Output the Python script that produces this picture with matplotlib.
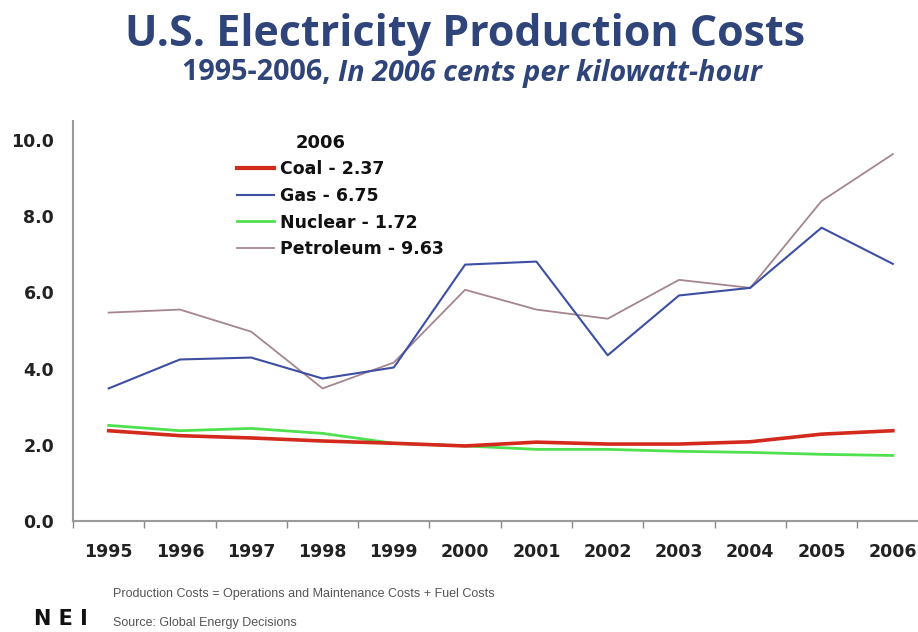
import matplotlib
matplotlib.use("Agg")
import matplotlib.pyplot as plt
from matplotlib.lines import Line2D

years = ["1995", "1996", "1997", "1998", "1999", "2000",
         "2001", "2002", "2003", "2004", "2005", "2006"]
coal = [2.37, 2.24, 2.18, 2.10, 2.04, 1.97, 2.07, 2.02, 2.02, 2.08, 2.28, 2.37]
gas = [3.48, 4.24, 4.29, 3.74, 4.03, 6.73, 6.81, 4.35, 5.92, 6.12, 7.70, 6.75]
nuclear = [2.51, 2.37, 2.43, 2.30, 2.04, 1.97, 1.88, 1.88, 1.83, 1.80, 1.75, 1.72]
petroleum = [5.47, 5.55, 4.97, 3.48, 4.16, 6.07, 5.55, 5.31, 6.33, 6.12, 8.40, 9.63]
yticks = [0, 2, 4, 6, 8, 10]
series_names = ["Coal - 2.37", "Gas - 6.75", "Nuclear - 1.72", "Petroleum - 9.63"]
legend_title = "2006"

W, H = 918, 632
fig = plt.figure(figsize=(W / 100, H / 100), dpi=100)
fig.patch.set_facecolor("white")

left = 73 / W
right = 928.5 / W
bottom = (H - 521) / H
top = (H - 121) / H
ax = fig.add_axes([left, bottom, right - left, top - bottom])

c_coal, c_gas, c_nuc, c_pet = "#d42a1e", "#3d4fa3", "#4fe04f", "#a4868e"
x = list(range(len(years)))
ax.plot(x, petroleum, color=c_pet, lw=1.3, zorder=2)
ax.plot(x, gas, color=c_gas, lw=1.5, zorder=3)
ax.plot(x, nuclear, color=c_nuc, lw=2.0, zorder=4)
ax.plot(x, coal, color=c_coal, lw=2.6, zorder=5)

ax.set_xlim(-0.5, len(years) - 0.5)
ax.set_ylim(0, 10.5)
ax.set_yticks(yticks)
ax.set_yticklabels([f"{v:.1f}" for v in yticks], fontsize=12.5,
                   fontweight="bold", color="#222222")
ax.set_xticks(x)
ax.set_xticklabels(years, fontsize=12.5, fontweight="bold", color="#222222")
ax.set_xticks([i + 0.5 for i in range(-1, len(years))], minor=True)
ax.tick_params(axis="x", which="major", length=0, pad=16)
ax.tick_params(axis="x", which="minor", length=5, color="#888888", width=1)
ax.tick_params(axis="y", which="major", length=0, pad=13.5)
for s in ["top", "right"]:
    ax.spines[s].set_visible(False)
for s in ["left", "bottom"]:
    ax.spines[s].set_color("#9a9a9a")
    ax.spines[s].set_linewidth(1.5)

handles = [
    Line2D([], [], color=c_coal, lw=3.0),
    Line2D([], [], color=c_gas, lw=1.5),
    Line2D([], [], color=c_nuc, lw=2.0),
    Line2D([], [], color=c_pet, lw=1.3),
]
leg = ax.legend(handles, series_names, frameon=False,
                loc="upper left", bbox_to_anchor=(225 / W, (H - 148) / H),
                bbox_transform=fig.transFigure,
                prop={"weight": "bold", "size": 12.5},
                handlelength=2.15, handletextpad=0.3, labelspacing=0.5,
                borderpad=0.2)
for t in leg.get_texts():
    t.set_color("#111111")
fig.text(321 / W, (H - 143) / H, legend_title, ha="center", va="center",
         fontsize=13, fontweight="bold", color="#111111")

navy = "#2f4478"
fig.text(465 / W, (H - 35) / H, "U.S. Electricity Production Costs",
         ha="center", va="center", fontsize=31, fontweight="bold",
         color=navy, family="Open Sans")

fig.canvas.draw()
r = fig.canvas.get_renderer()
t1 = fig.text(0, (H - 73) / H, "1995-2006, ", ha="left", va="center",
              fontsize=20.7, fontweight="bold", color=navy, family="Open Sans")
t2 = fig.text(0, (H - 73) / H, "In 2006 cents per kilowatt-hour", ha="left",
              va="center", fontsize=20.7, fontweight="bold", style="italic",
              color=navy, family="Open Sans")
w1 = t1.get_window_extent(r).width
w2 = t2.get_window_extent(r).width
x0 = (472 - (w1 + w2) / 2)
t1.set_x(x0 / W)
t2.set_x((x0 + w1) / W)

fig.text(113 / W, (H - 594) / H,
         "Production Costs = Operations and Maintenance Costs + Fuel Costs",
         fontsize=9, color="#555555", va="center", family="Liberation Sans")
fig.text(113 / W, (H - 623) / H, "Source: Global Energy Decisions",
         fontsize=9, color="#555555", va="center", family="Liberation Sans")
fig.text(34 / W, (H - 619) / H, "N E I", fontsize=15, fontweight="bold",
         color="#111111", va="center", family="DejaVu Sans")

fig.savefig("out.png", dpi=100, facecolor="white")
